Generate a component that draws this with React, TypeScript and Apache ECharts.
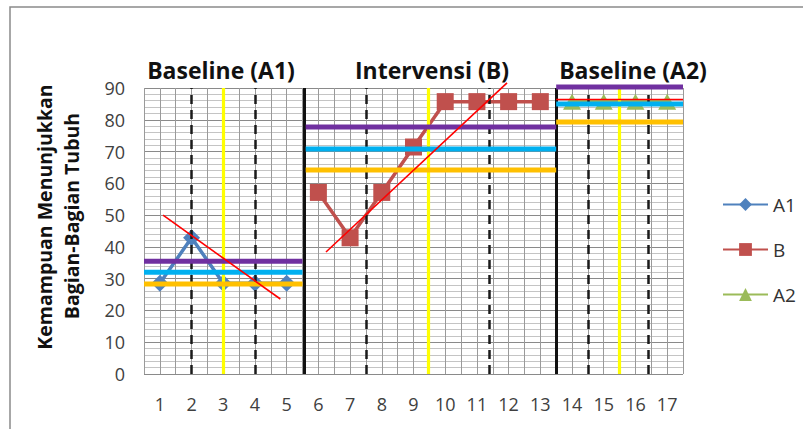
import React, { useEffect, useRef } from 'react';
import * as echarts from 'echarts';

// ---- data ----
const xTickLabels = ['1', '2', '3', '4', '5', '6', '7', '8', '9', '10', '11', '12', '13', '14', '15', '16', '17'];
const a1X = [1, 2, 3, 4, 5];
const a1Y = [28.57, 42.86, 28.57, 28.57, 28.57];
const bX = [6, 7, 8, 9, 10, 11, 12, 13];
const bY = [57.14, 42.86, 57.14, 71.43, 85.71, 85.71, 85.71, 85.71];
const a2X = [14, 15, 16, 17];
const a2Y = [85.71, 85.71, 85.71, 85.71];

const phaseTitles = ['Baseline (A1)', 'Intervensi (B)', 'Baseline (A2)'];
const phaseStart = [0.5, 5.6, 13.5];
const phaseEnd = [5.5, 13.5, 17.5];
const upperLevels = [35.5, 77.7, 90.3]; // purple
const meanLevels = [32.0, 70.8, 85.0]; // cyan
const lowerLevels = [28.3, 64.2, 79.3]; // orange
const trendStartX = [1.1, 6.24, 13.5];
const trendStartY = [50.0, 38.4, 86.4];
const trendEndX = [4.8, 11.95, 17.5];
const trendEndY = [23.6, 91.6, 86.4];
const dashedX = [2, 4, 7.5, 11.4, 14.5, 16.4];
const yellowX = [3, 9.46, 15.5];
const dividerX = [5.55, 13.5];
const yMin = 0;
const yMax = 90;
const yStep = 10;

const FONT = '"Open Sans", sans-serif';

export default function App() {
  const ref = useRef<HTMLDivElement>(null);
  useEffect(() => {
    document.body.style.margin = '0';
    const chart = echarts.init(ref.current!, null, { renderer: 'svg' });

    const pair = (xs: number[], ys: number[]) => xs.map((x, i) => [x, ys[i]]);

    const vLines = (xs: number[], color: string, width: number, type: any, z: number) => ({
      type: 'line',
      data: [],
      silent: true,
      clip: false,
      z,
      markLine: {
        silent: true,
        symbol: ['none', 'none'],
        label: { show: false },
        emphasis: { disabled: true },
        lineStyle: { color, width, type, opacity: 1 },
        data: xs.map((x) => ({ xAxis: x })),
      },
    });

    const segment = (x1: number, y1: number, x2: number, y2: number, color: string, width: number, z: number) => ({
      type: 'line',
      data: [
        [x1, y1],
        [x2, y2],
      ],
      silent: true,
      clip: false,
      showSymbol: false,
      symbol: 'none',
      z,
      lineStyle: { color, width, type: 'solid' },
      itemStyle: { color },
      emphasis: { disabled: true },
      tooltip: { show: false },
    });

    const levelSeries = (levels: number[], color: string) =>
      levels.map((lv, i) => segment(phaseStart[i], lv, phaseEnd[i], lv, color, 5, 6));

    const trendSeries = trendStartX.map((x, i) =>
      segment(x, trendStartY[i], trendEndX[i], trendEndY[i], '#FF0000', 1.6, 9)
    );

    const titleCenters = [221, 432, 633];

    chart.setOption({
      animation: false,
      grid: { left: 144, right: 120, top: 88, bottom: 55, containLabel: false },
      graphic: [
        {
          type: 'rect',
          shape: { x: 10, y: 7, width: 1000, height: 1000 },
          style: { fill: 'none', stroke: '#8a8a8a', lineWidth: 1.5 },
          silent: true,
        },
        ...phaseTitles.map((t, i) => ({
          type: 'text',
          x: titleCenters[i],
          y: 70,
          style: {
            text: t,
            fontFamily: FONT,
            fontWeight: 'bold',
            fontSize: 23,
            fill: '#111',
            textAlign: 'center',
            textVerticalAlign: 'middle',
          },
        })),
        {
          type: 'text',
          x: 44,
          y: 217,
          rotation: Math.PI / 2,
          style: {
            text: 'Kemampuan Menunjukkan',
            fontFamily: FONT,
            fontWeight: 'bold',
            fontSize: 19.5,
            fill: '#111',
            textAlign: 'center',
            textVerticalAlign: 'middle',
          },
        },
        {
          type: 'text',
          x: 71,
          y: 216,
          rotation: Math.PI / 2,
          style: {
            text: 'Bagian-Bagian Tubuh',
            fontFamily: FONT,
            fontWeight: 'bold',
            fontSize: 19.5,
            fill: '#111',
            textAlign: 'center',
            textVerticalAlign: 'middle',
          },
        },
      ],
      legend: {
        data: ['A1', 'B', 'A2'],
        orient: 'vertical',
        left: 717,
        top: 190,
        itemWidth: 45,
        itemHeight: 16,
        itemGap: 26,
        textStyle: { fontFamily: FONT, fontSize: 19, color: '#333', lineHeight: 16 },
      },
      xAxis: {
        type: 'value',
        min: 0.5,
        max: 17.5,
        interval: 0.5,
        axisLine: { show: false },
        axisTick: { show: false },
        splitLine: { show: true, lineStyle: { color: '#9a9a9a', width: 1 } },
        axisLabel: {
          fontFamily: FONT,
          fontSize: 18,
          color: '#404040',
          margin: 21,
          formatter: (v: number) => {
            const s = String(v);
            return xTickLabels.includes(s) ? s : '';
          },
        },
      },
      yAxis: {
        type: 'value',
        min: yMin,
        max: yMax,
        interval: yStep,
        axisLine: { show: false },
        axisTick: { show: false },
        axisLabel: { fontFamily: FONT, fontSize: 18, color: '#404040', margin: 19 },
        splitLine: { show: true, lineStyle: { color: '#8a8a8a', width: 1 } },
        minorTick: { show: false, splitNumber: 5 },
        minorSplitLine: { show: true, lineStyle: { color: '#c4c4c4', width: 1 } },
      },
      series: [
        vLines(dashedX, '#1a1a1a', 2.5, [9, 6], 1),
        vLines(yellowX, '#FFFF00', 3.2, 'solid', 1),
        vLines(dividerX, '#111111', 3, 'solid', 1),
        {
          name: 'A1',
          type: 'line',
          data: pair(a1X, a1Y),
          symbol: 'diamond',
          symbolSize: 17,
          color: '#4F81BD',
          lineStyle: { width: 3.5, color: '#4F81BD' },
          itemStyle: { color: '#4F81BD' },
          z: 3,
        },
        {
          name: 'B',
          type: 'line',
          data: pair(bX, bY),
          symbol: 'rect',
          symbolSize: 17,
          color: '#C0504D',
          lineStyle: { width: 3.5, color: '#C0504D' },
          itemStyle: { color: '#C0504D' },
          z: 3,
        },
        {
          name: 'A2',
          type: 'line',
          data: pair(a2X, a2Y),
          symbol: 'triangle',
          symbolSize: [18, 16],
          color: '#9BBB59',
          lineStyle: { width: 3.5, color: '#9BBB59' },
          itemStyle: { color: '#9BBB59' },
          z: 3,
        },
        ...levelSeries(upperLevels, '#7030A0'),
        ...levelSeries(meanLevels, '#00B0F0'),
        ...levelSeries(lowerLevels, '#FFC000'),
        ...trendSeries,
      ],
    });
    return () => chart.dispose();
  }, []);
  return <div ref={ref} style={{ position: 'absolute', left: 0, top: 0, width: 803, height: 429 }} />;
}
